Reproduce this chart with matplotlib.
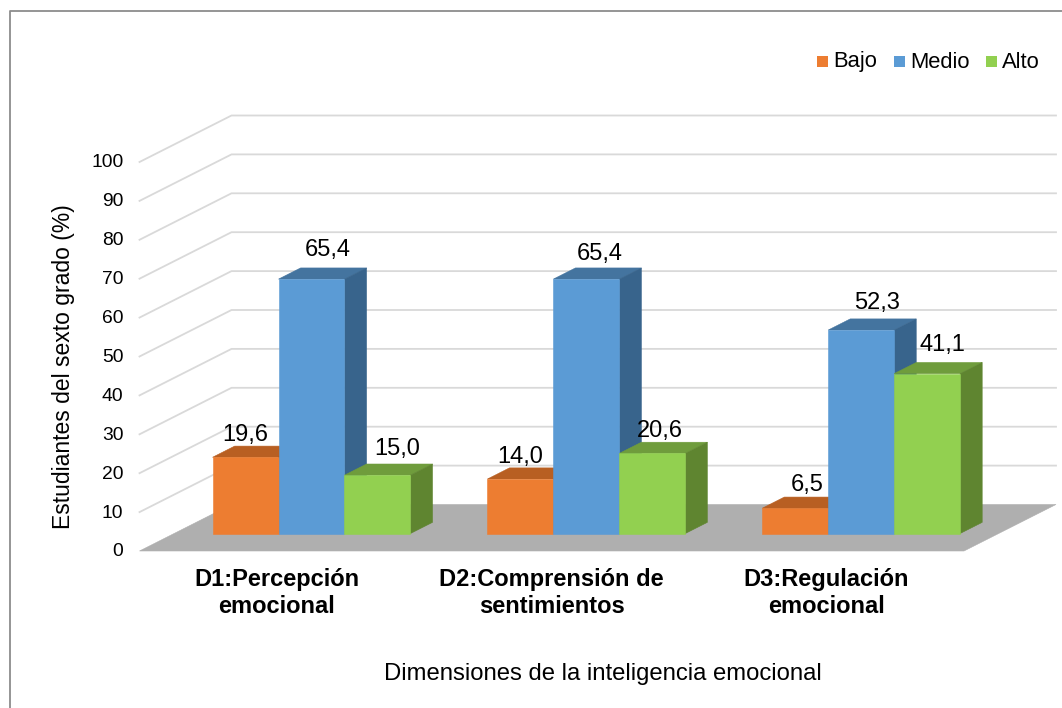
import matplotlib
matplotlib.use('Agg')
import matplotlib.pyplot as plt
from matplotlib.lines import Line2D
from matplotlib.patches import Polygon, Rectangle

categories = ['D1:Percepción\nemocional', 'D2:Comprensión de\nsentimientos', 'D3:Regulación\nemocional']
series = ['Bajo', 'Medio', 'Alto']
bajo = [19.6, 14.0, 6.5]
medio = [65.4, 65.4, 52.3]
alto = [15.0, 20.6, 41.1]
values = [bajo, medio, alto]
yticks = list(range(0, 101, 10))

front_col = ['#ed7d31', '#5b9bd5', '#92d050']
top_col = ['#b85f22', '#44749f', '#6f9c3c']
side_col = ['#9c4f1c', '#38648c', '#5f8530']

# label offsets from the top of each bar, in pixels (as Excel left them)
label_dx = [[0, 16, 20], [0, 13, 8], [12, 16, 15]]
label_dy = [[22, 29, 26], [22, 25, 22], [23, 27, 29]]

W = 1062; H = 708
plt.rcParams['font.family'] = ['Liberation Sans', 'DejaVu Sans']
fig = plt.figure(figsize=(W / 100, H / 100), dpi=100)
fig.patch.set_facecolor('white')

# front plane of the 3D box: x = category units, y = percent
left = 139.5; right = 964; y0 = 551; y100 = 162
ax = fig.add_axes([left / W, 1 - y0 / H, (right - left) / W, (y0 - y100) / H])
ax.set_xlim(0, 3); ax.set_ylim(0, 100)
ax.axis('off')

# shift of the back wall, in data units
depth_x = 92 / ((right - left) / 3)
depth_y = 46.5 / ((y0 - y100) / 100)

def proj(x, d, v):
    return (x + d * depth_x, v + d * depth_y)

def box(pts, color, z):
    ax.add_patch(Polygon([proj(*p) for p in pts], closed=True, facecolor=color,
                         edgecolor=color, lw=0.4, zorder=z, clip_on=False))

# gridlines on side and back wall
for t in yticks[1:]:
    xs, ys = zip(proj(0, 0, t), proj(0, 1, t), proj(3, 1, t))
    ax.plot(xs, ys, color='#d9d9d9', lw=1.3, zorder=1, clip_on=False)

# floor
box([(0, 0, 0), (3, 0, 0), (3, 1, 0), (0, 1, 0)], '#afafaf', 2)

# bars
bar_w = 0.24; gap = 0.14
d1 = 0.376; d2 = 0.616
z = 3
for i in range(len(categories)):
    for j in range(len(series)):
        v = values[j][i]
        x1 = i + gap + j * bar_w
        x2 = x1 + bar_w
        box([(x1, d1, v), (x2, d1, v), (x2, d2, v), (x1, d2, v)], top_col[j], z)
        box([(x2, d1, 0), (x2, d2, 0), (x2, d2, v), (x2, d1, v)], side_col[j], z)
        box([(x1, d1, 0), (x2, d1, 0), (x2, d1, v), (x1, d1, v)], front_col[j], z)
        z = z + 1
        ax.annotate(f'{v:.1f}'.replace('.', ','), proj((x1 + x2) / 2, d1, v),
                    xytext=(label_dx[i][j] * 0.72, label_dy[i][j] * 0.72), textcoords='offset points',
                    ha='center', va='center', fontsize=17, color='black', zorder=50)

# y tick labels
for t in yticks:
    ax.annotate(str(t), (0, t), xytext=(-11.6, -0.7), textcoords='offset points',
                ha='right', va='center', fontsize=13.9, color='black')

# category labels
for i, c in enumerate(categories):
    fig.text((left + 137 + i * 275) / W, 1 - 593 / H, c, ha='center', va='center',
             fontsize=17, fontweight='bold', color='black', linespacing=1.2)

fig.text(64 / W, 1 - 367 / H, 'Estudiantes del sexto grado (%)', rotation=90, ha='center', va='center',
         fontsize=16.5, color='black')
fig.text(603 / W, 1 - 674 / H, 'Dimensiones de la inteligencia emocional', ha='center', va='center',
         fontsize=17.2, color='black')

# legend
leg_x = [817, 894, 986]
for name, col, lx in zip(series, front_col, leg_x):
    fig.add_artist(Rectangle((lx / W, 1 - 67 / H), 11 / W, 11 / H, transform=fig.transFigure,
                             facecolor=col, edgecolor='none'))
    fig.text((lx + 16) / W, 1 - 62 / H, name, ha='left', va='center', fontsize=15.8, color='black')

# chart border, cut by the picture on the right and at the bottom
fig.add_artist(Line2D([1, 9.5 / W, 9.5 / W], [1 - 10.5 / H, 1 - 10.5 / H, 0],
                      transform=fig.transFigure, color='#8c8c8c', lw=1.3))

fig.savefig('out.png', dpi=100)
